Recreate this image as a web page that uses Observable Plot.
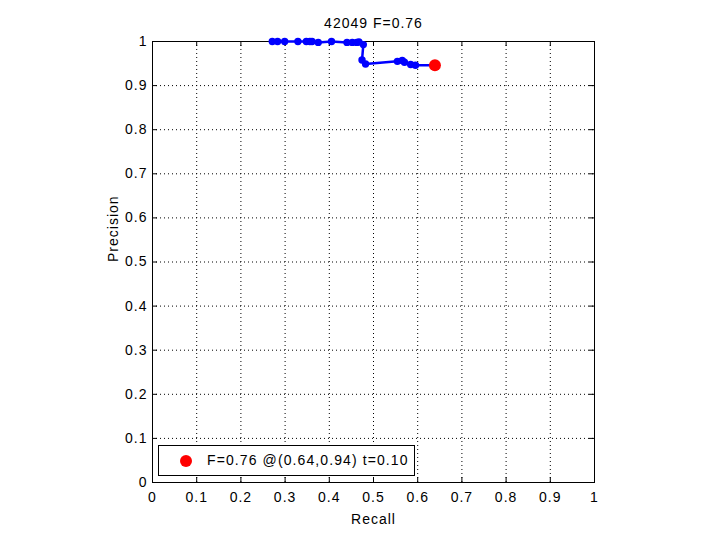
<!DOCTYPE html>
<html>
<head>
<meta charset="utf-8">
<script src="https://cdn.jsdelivr.net/npm/d3@7"></script>
<script src="https://cdn.jsdelivr.net/npm/@observablehq/plot@0.6"></script>
<style>
  body { margin: 0; background: #fff; }
  #wrap { position: relative; width: 720px; height: 540px; background: #fff; }
  #legend {
    position: absolute; left: 158px; top: 445px; width: 255px; height: 29px;
    border: 1px solid #000; background: #fff; box-sizing: content-box;
    font-family: "Liberation Sans", Arial, sans-serif; font-size: 14px; letter-spacing: 1.1px;
  }
  #legend .dot { position: absolute; left: 21px; top: 9px; width: 12px; height: 12px; border-radius: 50%; background: #ff0000; }
  #legend .txt { position: absolute; left: 48px; top: 6px; white-space: nowrap; }
</style>
</head>
<body>
<div id="wrap"><div id="chart"></div><div id="legend"><div class="dot"></div><div class="txt"></div></div></div>
<script>
// PR curve (recall, precision)
const recall    = [0.271, 0.283, 0.299, 0.329, 0.348, 0.356, 0.361, 0.375, 0.405, 0.440, 0.452, 0.462, 0.467, 0.477, 0.474, 0.482, 0.554, 0.565, 0.570, 0.584, 0.595, 0.639];
const precision = [1.000, 1.000, 1.000, 1.000, 1.000, 1.000, 1.000, 0.998, 1.000, 0.998, 0.998, 0.998, 0.999, 0.993, 0.958, 0.949, 0.955, 0.957, 0.953, 0.948, 0.946, 0.946];
// best F point
const bestRecall = [0.639];
const bestPrecision = [0.946];
const bestF = 0.76;
const bestLabelR = 0.64;
const bestLabelP = 0.94;
const bestT = 0.10;
const imageId = "42049";
// ticks
const xTicks = [0, 0.1, 0.2, 0.3, 0.4, 0.5, 0.6, 0.7, 0.8, 0.9, 1];
const yTicks = [0, 0.1, 0.2, 0.3, 0.4, 0.5, 0.6, 0.7, 0.8, 0.9, 1];

const curve = recall.map((r, i) => ({r, p: precision[i]}));
const best = bestRecall.map((r, i) => ({r, p: bestPrecision[i]}));

const fmt = d => String(d);
const chart = Plot.plot({
  width: 720, height: 540,
  marginLeft: 152, marginRight: 126, marginTop: 41, marginBottom: 58,
  style: {fontFamily: "Liberation Sans, Arial, sans-serif", fontSize: "14px", letterSpacing: "1px", background: "#fff", color: "#000"},
  x: {domain: [0, 1]},
  y: {domain: [0, 1]},
  marks: [
    Plot.gridX(xTicks, {stroke: "#000", strokeOpacity: 1, strokeDasharray: "1,3"}),
    Plot.gridY(yTicks, {stroke: "#000", strokeOpacity: 1, strokeDasharray: "1,3"}),
    Plot.ruleX(xTicks, {insetTop: 436, stroke: "#000"}),
    Plot.ruleX(xTicks, {insetBottom: 436, stroke: "#000"}),
    Plot.ruleY(yTicks, {insetRight: 437, stroke: "#000"}),
    Plot.ruleY(yTicks, {insetLeft: 437, stroke: "#000"}),
    Plot.frame({stroke: "#000"}),
    Plot.axisX(xTicks, {tickSize: 0, tickPadding: 10, tickFormat: fmt, label: null}),
    Plot.axisY(yTicks, {tickSize: 0, tickPadding: 5, tickFormat: fmt, label: null}),
    Plot.line(curve, {x: "r", y: "p", stroke: "#0000ff", strokeWidth: 2.5}),
    Plot.dot(curve.slice(0, -1), {x: "r", y: "p", r: 3.7, fill: "#0000ff", stroke: "none"}),
    Plot.dot(best, {x: "r", y: "p", r: 6, fill: "#ff0000", stroke: "none"}),
    Plot.text([`${imageId} F=${bestF.toFixed(2)}`], {frameAnchor: "top", dy: -23, fill: "#000"}),
    Plot.text(["Recall"], {frameAnchor: "bottom", dy: 41, fill: "#000"}),
    Plot.text(["Precision"], {frameAnchor: "left", dx: -39, rotate: -90, fill: "#000"})
  ]
});
document.getElementById("chart").appendChild(chart);
document.querySelector("#legend .txt").textContent =
  `F=${bestF.toFixed(2)} @(${bestLabelR.toFixed(2)},${bestLabelP.toFixed(2)}) t=${bestT.toFixed(2)}`;
</script>
</body>
</html>
